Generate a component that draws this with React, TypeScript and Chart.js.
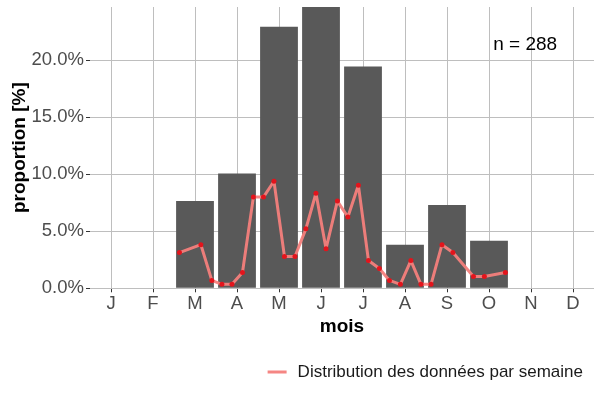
import { useEffect, useRef } from 'react'
import Chart from 'chart.js/auto'
import type { Plugin } from 'chart.js'

const months = ['J', 'F', 'M', 'A', 'M', 'J', 'J', 'A', 'S', 'O', 'N', 'D']

// monthly share of observations, in %
const monthShare = [null, null, 7.64, 10.07, 22.92, 24.65, 19.44, 3.82, 7.29, 4.17, null, null]

// weekly points: position on the month axis (0 = J) and share in %
const weekPos = [
  1.63, 2.14, 2.4, 2.64, 2.88, 3.13, 3.39, 3.63, 3.88, 4.13, 4.38, 4.64, 4.88, 5.12, 5.39,
  5.64, 5.89, 6.13, 6.39, 6.63, 6.89, 7.14, 7.38, 7.62, 7.88, 8.14, 8.63, 8.89, 9.39,
]
const weekShare = [
  3.13, 3.82, 0.69, 0.35, 0.35, 1.39, 7.99, 7.99, 9.38, 2.78, 2.78, 5.21, 8.33, 3.47, 7.64,
  6.25, 9.03, 2.43, 1.74, 0.69, 0.35, 2.43, 0.35, 0.35, 3.82, 3.13, 1.04, 1.04, 1.39,
]

const yTicks = [0, 5, 10, 15, 20]
const nLabel = 'n = 288'
const legendLabel = 'Distribution des données par semaine'

const FONT = "'Liberation Sans', Arial, sans-serif"
const LINE_COLOR = 'rgba(244, 128, 124, 0.95)'

const annotations: Plugin<'bar'> = {
  id: 'annotations',
  afterDraw(chart) {
    const { ctx, scales } = chart
    ctx.save()

    // n = 288 label inside the panel
    ctx.font = `19px ${FONT}`
    ctx.fillStyle = '#000000'
    ctx.textAlign = 'center'
    ctx.textBaseline = 'middle'
    ctx.fillText(nLabel, scales.xw.getPixelForValue(9.86), scales.y.getPixelForValue(21.3))

    // bottom-right legend
    ctx.font = `17px ${FONT}`
    ctx.textAlign = 'left'
    const textWidth = ctx.measureText(legendLabel).width
    const textX = chart.width - 17 - textWidth
    const legendY = 372
    ctx.fillStyle = '#1a1a1a'
    ctx.fillText(legendLabel, textX, legendY)
    ctx.strokeStyle = LINE_COLOR
    ctx.lineWidth = 3
    ctx.beginPath()
    ctx.moveTo(textX - 30, legendY)
    ctx.lineTo(textX - 11, legendY)
    ctx.stroke()

    ctx.restore()
  },
}

function App() {
  const canvasRef = useRef<HTMLCanvasElement | null>(null)

  useEffect(() => {
    document.body.style.margin = '0'
    if (!canvasRef.current) {
      return undefined
    }

    const chart = new Chart(canvasRef.current, {
      type: 'bar',
      data: {
        labels: months,
        datasets: [
          {
            type: 'line',
            label: legendLabel,
            xAxisID: 'xw',
            data: weekPos.map((x, i) => ({ x, y: weekShare[i] })),
            borderColor: LINE_COLOR,
            borderWidth: 3,
            borderJoinStyle: 'round',
            borderCapStyle: 'round',
            pointBackgroundColor: '#e3141c',
            pointBorderColor: '#e3141c',
            pointRadius: 2.5,
            pointBorderWidth: 0,
            tension: 0,
            order: 0,
          },
          {
            type: 'bar',
            label: 'mois',
            data: monthShare,
            backgroundColor: '#595959',
            barPercentage: 0.9,
            categoryPercentage: 1,
            grouped: false,
            order: 1,
          },
        ] as any,
      },
      options: {
        animation: false,
        responsive: true,
        maintainAspectRatio: false,
        layout: {
          padding: { top: 7, right: 6, left: 0, bottom: 52 },
        },
        font: { family: FONT },
        plugins: {
          legend: { display: false },
          tooltip: { enabled: false },
        },
        scales: {
          x: {
            type: 'category',
            offset: true,
            grid: {
              offset: false,
              color: '#bebebe',
              lineWidth: 1,
              tickLength: 4,
              tickColor: '#333333',
            },
            border: { display: false },
            ticks: {
              color: '#4d4d4d',
              padding: 1,
              font: { family: FONT, size: 18.5 },
              maxRotation: 0,
              autoSkip: false,
            },
            title: {
              display: true,
              text: 'mois',
              color: '#000000',
              font: { family: FONT, size: 19, weight: 'bold' },
              padding: { top: 0, bottom: 10 },
            },
            afterFit: (scale) => {
              scale.height = 59.7
              scale.paddingLeft = 0
              scale.paddingRight = 0
            },
          },
          xw: {
            type: 'linear',
            display: false,
            offset: false,
            min: -0.5,
            max: 11.5,
          },
          y: {
            type: 'linear',
            min: 0,
            max: 24.65,
            afterBuildTicks: (scale) => {
              scale.ticks = yTicks.map((value) => ({ value }))
            },
            grid: {
              color: '#bebebe',
              lineWidth: 1,
              tickLength: 4,
              tickColor: '#333333',
            },
            border: { display: false },
            ticks: {
              color: '#4d4d4d',
              padding: 2,
              font: { family: FONT, size: 18.5 },
              callback: (value) => `${Number(value).toFixed(1)}%`,
            },
            title: {
              display: true,
              text: 'proportion [%]',
              color: '#000000',
              font: { family: FONT, size: 19, weight: 'bold' },
              padding: { top: 8.5, bottom: 0 },
            },
            afterFit: (scale) => {
              scale.width = 90
              scale.paddingTop = 0
              scale.paddingBottom = 0
            },
          },
        },
      },
      plugins: [annotations],
    })

    return () => {
      chart.destroy()
    }
  }, [])

  return (
    <div style={{ width: 600, height: 400, position: 'relative' }}>
      <canvas ref={canvasRef} />
    </div>
  )
}

export default App
